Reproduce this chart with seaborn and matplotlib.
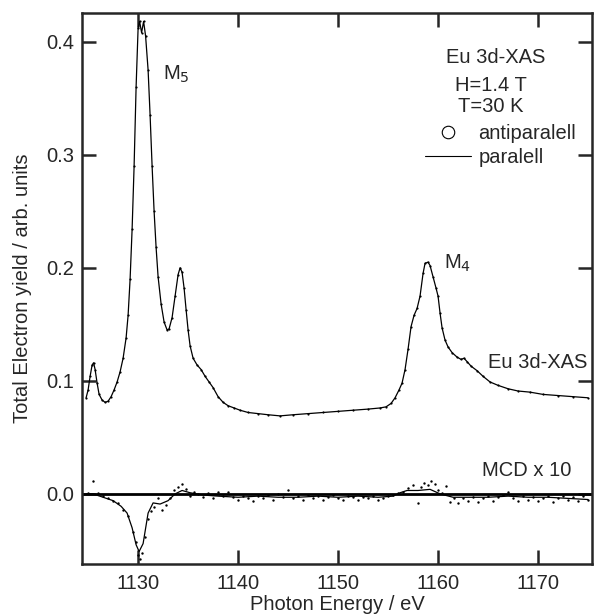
import numpy as np
import pandas as pd
import matplotlib
matplotlib.use("Agg")
import matplotlib.pyplot as plt
import seaborn as sns
from matplotlib.lines import Line2D

# Eu 3d-XAS, total electron yield
xas_energy = [1124.8, 1125.0, 1125.2, 1125.4, 1125.55, 1125.7, 1125.9, 1126.1, 1126.4, 1126.7,
              1127.0, 1127.3, 1127.6, 1127.9, 1128.2, 1128.5, 1128.8, 1129.0, 1129.2, 1129.4,
              1129.6, 1129.8, 1130.0, 1130.15, 1130.35, 1130.55, 1130.75, 1131.0, 1131.2, 1131.4,
              1131.6, 1131.8, 1132.0, 1132.3, 1132.6, 1132.9, 1133.1, 1133.4, 1133.7, 1134.0,
              1134.2, 1134.4, 1134.6, 1134.8, 1135.0, 1135.2, 1135.5, 1135.9, 1136.3, 1136.7,
              1137.1, 1137.5, 1138.0, 1138.5, 1139.0, 1139.6, 1140.2, 1141.0, 1142.0, 1143.0,
              1144.2, 1145.5, 1147.0, 1148.5, 1150.0, 1151.5, 1153.0, 1154.2, 1154.8, 1155.3,
              1155.7, 1156.1, 1156.4, 1156.7, 1157.0, 1157.3, 1157.6, 1157.9, 1158.2, 1158.5,
              1158.7, 1159.0, 1159.2, 1159.5, 1159.8, 1160.0, 1160.2, 1160.4, 1160.7, 1161.0,
              1161.4, 1161.9, 1162.3, 1162.6, 1162.9, 1163.3, 1163.9, 1164.5, 1165.2, 1166.0,
              1167.0, 1168.0, 1169.2, 1170.5, 1172.0, 1173.5, 1175.0]
xas_yield = [0.085, 0.092, 0.104, 0.114, 0.116, 0.110, 0.098, 0.088, 0.083, 0.081,
             0.082, 0.086, 0.092, 0.099, 0.108, 0.120, 0.138, 0.158, 0.190, 0.234,
             0.290, 0.360, 0.412, 0.418, 0.408, 0.418, 0.405, 0.375, 0.335, 0.290,
             0.250, 0.218, 0.192, 0.168, 0.152, 0.145, 0.146, 0.156, 0.175, 0.194,
             0.200, 0.196, 0.182, 0.163, 0.145, 0.131, 0.120, 0.114, 0.110, 0.104,
             0.099, 0.094, 0.086, 0.081, 0.078, 0.076, 0.074, 0.072, 0.071, 0.070,
             0.069, 0.070, 0.071, 0.072, 0.073, 0.074, 0.075, 0.076, 0.077, 0.080,
             0.085, 0.092, 0.098, 0.110, 0.128, 0.148, 0.158, 0.164, 0.175, 0.195,
             0.204, 0.205, 0.202, 0.192, 0.182, 0.175, 0.160, 0.147, 0.136, 0.130,
             0.125, 0.121, 0.119, 0.120, 0.117, 0.113, 0.109, 0.104, 0.099, 0.096,
             0.093, 0.091, 0.090, 0.088, 0.087, 0.086, 0.085]

# MCD x 10, smoothed line
mcd_energy = [1124.8, 1125.5, 1126.5, 1127.5, 1128.3, 1128.9, 1129.4, 1129.8, 1130.1, 1130.5,
              1131.0, 1131.5, 1132.2, 1133.0, 1133.7, 1134.4, 1135.2, 1136.5, 1138.0, 1140.0,
              1142.0, 1144.0, 1146.0, 1148.0, 1150.0, 1152.0, 1154.0, 1155.5, 1156.2, 1156.9,
              1158.0, 1159.2, 1160.2, 1161.5, 1163.0, 1165.0, 1167.0, 1169.0, 1171.0, 1173.0,
              1175.0]
mcd_line = [0.0, 0.0, -0.003, -0.006, -0.011, -0.017, -0.030, -0.045, -0.051, -0.044,
            -0.017, -0.008, -0.009, -0.006, 0.0, 0.003, 0.001, -0.001, -0.002, -0.003,
            -0.002, -0.003, -0.003, -0.002, -0.003, -0.002, -0.003, -0.002, 0.001, 0.003,
            0.003, 0.004, 0.0, -0.003, -0.003, -0.003, -0.002, -0.003, -0.003, -0.004,
            -0.005]

# MCD x 10, raw points
mcd_pt_energy = [1125.0, 1125.5, 1126.0, 1126.5, 1127.0, 1127.5, 1128.0, 1128.5, 1129.0, 1129.5,
                 1129.8, 1130.0, 1130.2, 1130.4, 1130.7, 1131.0, 1131.3, 1131.6, 1132.0, 1132.4,
                 1132.8, 1133.2, 1133.6, 1134.0, 1134.4, 1134.8, 1135.2, 1135.6, 1136.0, 1136.5,
                 1137.0, 1137.5, 1138.0, 1138.5, 1139.0, 1139.5, 1140.0, 1140.5, 1141.0, 1141.5,
                 1142.0, 1142.5, 1143.0, 1143.5, 1144.0, 1144.5, 1145.0, 1145.5, 1146.0, 1146.5,
                 1147.0, 1147.5, 1148.0, 1148.5, 1149.0, 1149.5, 1150.0, 1150.5, 1151.0, 1151.5,
                 1152.0, 1152.5, 1153.0, 1153.5, 1154.0, 1154.5, 1155.0, 1155.5, 1156.0, 1156.5,
                 1157.0, 1157.5, 1158.0, 1158.3, 1158.6, 1159.0, 1159.3, 1159.7, 1160.0, 1160.4,
                 1160.8, 1161.2, 1161.6, 1162.0, 1162.5, 1163.0, 1163.5, 1164.0, 1164.5, 1165.0,
                 1165.5, 1166.0, 1166.5, 1167.0, 1167.5, 1168.0, 1168.5, 1169.0, 1169.5, 1170.0,
                 1170.5, 1171.0, 1171.5, 1172.0, 1172.5, 1173.0, 1173.5, 1174.0, 1174.5, 1175.0]
mcd_points = [0.001, 0.011, 0.001, -0.002, -0.004, -0.006, -0.008, -0.014, -0.020, -0.034,
              -0.043, -0.054, -0.058, -0.052, -0.038, -0.022, -0.015, -0.012, -0.004, -0.014,
              -0.010, -0.004, 0.003, 0.006, 0.009, 0.004, -0.002, 0.002, 0.000, -0.003,
              0.001, -0.004, 0.002, -0.002, 0.002, -0.003, -0.005, -0.002, -0.004, -0.006,
              -0.002, -0.004, -0.001, -0.005, 0.000, -0.003, 0.003, -0.004, -0.002, -0.005,
              -0.001, -0.004, -0.002, -0.005, -0.003, -0.001, -0.004, -0.005, -0.002, -0.003,
              -0.005, -0.003, -0.004, -0.002, -0.005, -0.004, -0.002, -0.001, 0.001, 0.002,
              0.005, 0.008, -0.008, 0.006, 0.010, 0.008, 0.011, 0.009, 0.003, 0.001,
              0.007, -0.007, -0.004, -0.008, -0.004, -0.006, -0.003, -0.007, -0.004, -0.002,
              -0.006, -0.003, -0.001, 0.002, -0.004, -0.006, -0.002, -0.005, -0.003, -0.006,
              -0.004, -0.002, -0.007, -0.004, -0.002, -0.005, -0.003, -0.006, -0.002, -0.005]

xas = pd.DataFrame({"energy": xas_energy, "yield": xas_yield})
mcd = pd.DataFrame({"energy": mcd_energy, "mcd": mcd_line})
mcd_raw = pd.DataFrame({"energy": mcd_pt_energy, "mcd": mcd_points})

sns.set_style("ticks")
plt.rcParams['font.family'] = ['Liberation Sans', 'DejaVu Sans']
fs = 14.5

fig = plt.figure(figsize=(5.95, 6.15), dpi=100)
ax = fig.add_axes([0.138, 0.083, 0.857, 0.896])

# XAS: line (paralell) + tiny dots (antiparalell)
sns.lineplot(data=xas, x="energy", y="yield", color="black", lw=0.9, ax=ax)
sns.scatterplot(data=xas, x="energy", y="yield", color="black", s=2.5, linewidth=0, ax=ax)

# MCD x 10
ax.axhline(0, color="black", lw=2, zorder=1)
sns.lineplot(data=mcd, x="energy", y="mcd", color="black", lw=0.9, ax=ax)
sns.scatterplot(data=mcd_raw, x="energy", y="mcd", color="black", s=3, linewidth=0, ax=ax)

ax.set_xlim(1124.4, 1175.4)
ax.set_ylim(-0.062, 0.4255)
ax.set_xticks([1130, 1140, 1150, 1160, 1170])
ax.set_yticks([0.0, 0.1, 0.2, 0.3, 0.4])
ax.set_yticklabels(["0.0", "0.1", "0.2", "0.3", "0.4"])
ax.tick_params(direction="in", length=10, width=1.8, top=True, right=True, labelsize=fs)
ax.tick_params(axis="x", pad=7)
ax.tick_params(axis="y", pad=6)
for sp in ax.spines.values():
    sp.set_linewidth(1.8)
ax.set_xlabel("Photon Energy / eV", fontsize=fs, labelpad=2)
ax.set_ylabel("Total Electron yield / arb. units", fontsize=fs, labelpad=10)

# annotations
ax.text(1132.5, 0.371, "M$_5$", fontsize=fs, ha="left", va="center")
ax.text(1160.6, 0.204, "M$_4$", fontsize=fs, ha="left", va="center")
ax.text(1165.8, 0.386, "Eu 3d-XAS", fontsize=fs, ha="center", va="center")
ax.text(1165.3, 0.3615, "H=1.4 T", fontsize=fs, ha="center", va="center")
ax.text(1165.3, 0.3425, "T=30 K", fontsize=fs, ha="center", va="center")
ax.text(1174.9, 0.116, "Eu 3d-XAS", fontsize=fs, ha="right", va="center")
ax.text(1168.9, 0.021, "MCD x 10", fontsize=fs, ha="center", va="center")

handles = [Line2D([], [], ls="none", marker="o", mfc="white", mec="black", ms=9, mew=0.8),
           Line2D([], [], color="black", lw=0.8)]
ax.legend(handles, ["antiparalell", "paralell"], loc="upper left",
          bbox_to_anchor=(1158.7, 0.327), bbox_transform=ax.transData,
          frameon=False, fontsize=fs, handlelength=2.3, handletextpad=0.35,
          labelspacing=0.22, borderpad=0, borderaxespad=0)

fig.savefig("out.png", dpi=100)
